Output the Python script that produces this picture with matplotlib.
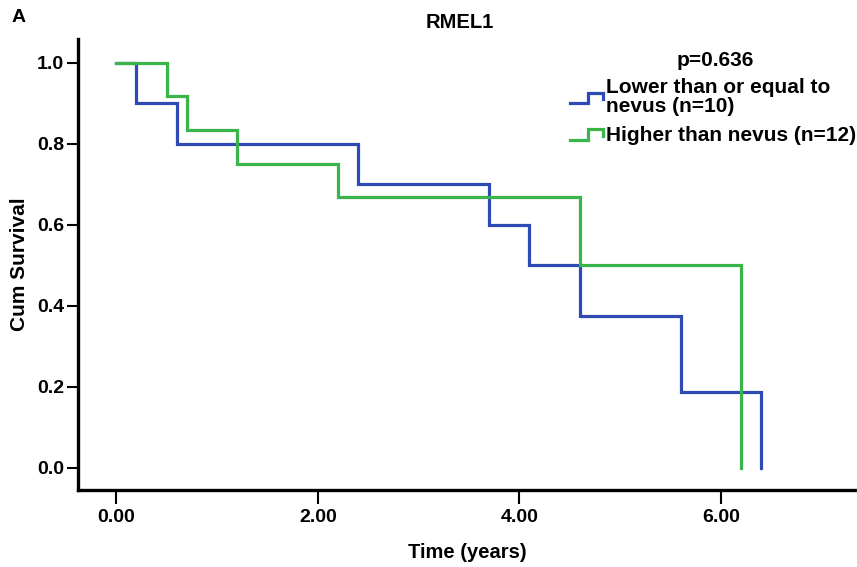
import matplotlib
matplotlib.use('Agg')
import matplotlib.pyplot as plt
from matplotlib.lines import Line2D
from matplotlib.legend_handler import HandlerBase

plt.rcParams['font.family'] = ['Liberation Sans', 'DejaVu Sans']
plt.rcParams['font.weight'] = 'bold'

# survival curves (step after each time)
blue_t = [0.0, 0.2, 0.6, 2.4, 3.7, 4.1, 4.6, 5.6, 6.4]
blue_s = [1.0, 0.9, 0.8, 0.7, 0.6, 0.5, 0.375, 0.1875, 0.0]
green_t = [0.0, 0.5, 0.7, 1.2, 2.2, 4.6, 6.2]
green_s = [1.0, 0.917, 0.833, 0.75, 0.667, 0.5, 0.0]

labels = ['Lower than or equal to\nnevus (n=10)', 'Higher than nevus (n=12)']
blue = '#2e4bb5'
green = '#3ab54a'
xticks = [0, 2, 4, 6]
yticks = [0.0, 0.2, 0.4, 0.6, 0.8, 1.0]


class StepHandler(HandlerBase):
    def create_artists(self, legend, orig_handle, xdescent, ydescent,
                       width, height, fontsize, trans):
        lo = -ydescent + height * 0.12
        hi = -ydescent + height * 0.82
        x0 = -xdescent
        xs = [x0, x0 + width * 0.55, x0 + width * 0.55, x0 + width, x0 + width]
        ys = [lo, lo, hi, hi, lo + (hi - lo) * 0.35]
        ln = Line2D(xs, ys, color=orig_handle.get_color(),
                    lw=orig_handle.get_linewidth(), transform=trans,
                    solid_joinstyle='miter')
        return [ln]


fig = plt.figure(figsize=(8.57, 5.67), dpi=100)
ax = fig.add_axes([78 / 857, 1 - 490 / 567, 1 - 78 / 857, (490 - 39) / 567])

l1, = ax.step(blue_t, blue_s, where='post', color=blue, lw=2.3, solid_joinstyle='miter')
l2, = ax.step(green_t, green_s, where='post', color=green, lw=2.3, solid_joinstyle='miter')

ax.set_xlim(-0.38, 7.35)
ax.set_ylim(-0.055, 1.058)
ax.set_xticks(xticks)
ax.set_xticklabels(['%.2f' % v for v in xticks])
ax.set_yticks(yticks)
ax.set_yticklabels(['%.1f' % v for v in yticks])
for s in ['top', 'right']:
    ax.spines[s].set_visible(False)
for s in ['left', 'bottom']:
    ax.spines[s].set_linewidth(2.4)
ax.tick_params(axis='both', direction='out', width=1.5, labelsize=14)
ax.tick_params(axis='x', length=10, pad=4)
ax.tick_params(axis='y', length=8, pad=2)

ax.set_xlabel('Time (years)', fontsize=14.5, fontweight='bold', labelpad=12)
ax.set_ylabel('Cum Survival', fontsize=15, fontweight='bold', labelpad=6)
fig.text(460 / 857, 1 - 22 / 567, 'RMEL1', ha='center', va='center',
         fontsize=14.5, fontweight='bold')
fig.text(12 / 857, 1 - 18 / 567, 'A', ha='left', va='center',
         fontsize=14, fontweight='bold')
fig.text(715 / 857, 1 - 60 / 567, 'p=0.636', ha='center', va='center',
         fontsize=15, fontweight='bold')

leg = ax.legend([l1, l2], labels, handler_map={Line2D: StepHandler()},
                loc='upper left', bbox_to_anchor=(570 / 857, 1 - 78 / 567),
                bbox_transform=fig.transFigure, frameon=False,
                handlelength=1.6, handletextpad=0.15, borderpad=0, borderaxespad=0,
                labelspacing=0.5, prop={'weight': 'bold', 'size': 15})
for t in leg.get_texts():
    t.set_linespacing(1.0)

fig.savefig('out.png', dpi=100)
